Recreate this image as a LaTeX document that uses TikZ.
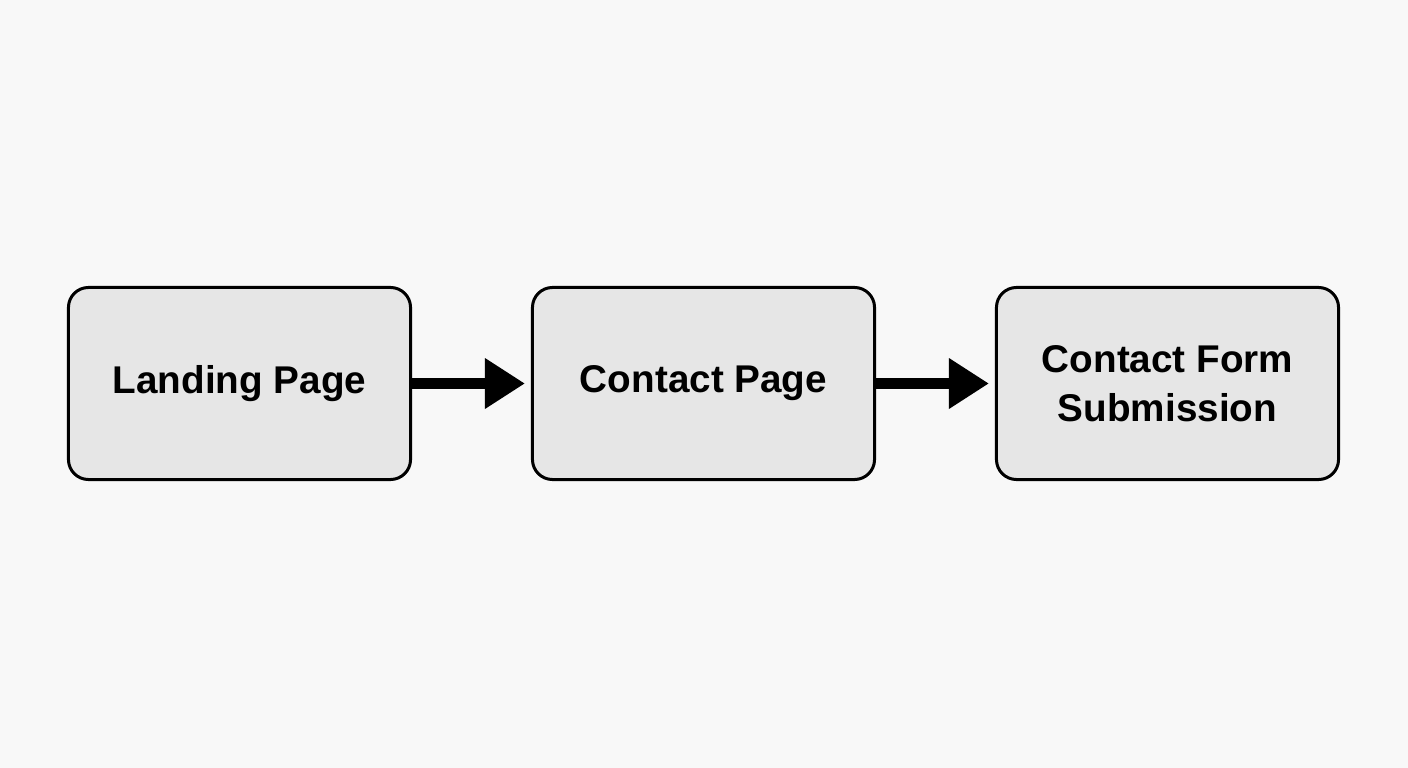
\documentclass[tikz,border=0pt]{standalone}
\usepackage{fontspec}
\setmainfont{Liberation Sans}
\usetikzlibrary{arrows.meta}
\definecolor{bgcol}{HTML}{F8F8F8}
\definecolor{boxcol}{HTML}{E6E6E6}
\begin{document}
\begin{tikzpicture}[x=0.025cm, y=-0.025cm,
  page/.style={draw=black, line width=0.075cm, fill=boxcol, rounded corners=0.5cm,
    minimum width=8.55cm, minimum height=4.8cm, align=center, inner sep=0pt,
    font=\fontsize{27.5pt}{35pt}\selectfont\bfseries},
  flow/.style={line width=0.275cm, -{Triangle[length=1cm, width=1.2cm]}, shorten >=0.15cm}]
 \fill[bgcol] (0,0) rectangle (1408,768);
 \draw (239.5, 383.5) node[page] (Landing) {Landing Page};
 \draw (703.5, 383.5) node[page] (Contact) {Contact Page};
 \draw (1167.5, 383.5) node[page] (Submission) {Contact Form\\Submission};

 \draw[flow] (Landing) -- (Contact);
 \draw[flow] (Contact) -- (Submission);
\end{tikzpicture}
\end{document}
